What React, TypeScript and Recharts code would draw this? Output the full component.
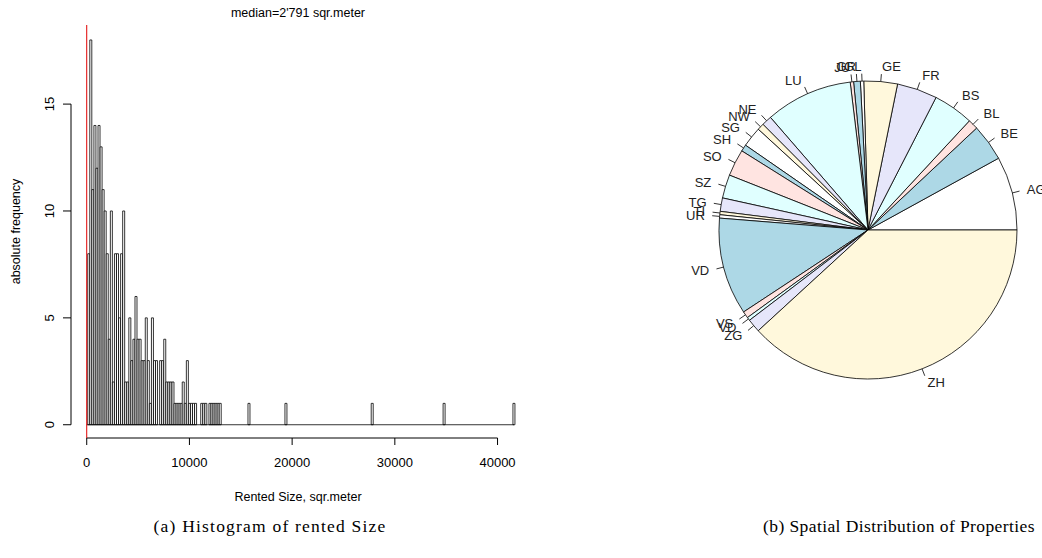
import React from 'react'
import { BarChart, Bar, XAxis, YAxis, ReferenceLine, Label, PieChart, Pie, Cell } from 'recharts'

// histogram: counts per 200 sqm bin, bins 0..13000
const denseCounts = [
  0, 8, 18, 11, 14, 12, 14, 13, 11, 10, 8, 4, 10, 2, 8, 8, 5, 8, 10, 2,
  2, 5, 3, 4, 6, 4, 4, 3, 3, 5, 3, 1, 5, 3, 3, 0, 3, 3, 4, 2,
  2, 2, 2, 1, 1, 1, 1, 2, 1, 3, 1, 1, 1, 1, 0, 0, 1, 1, 1, 0,
  1, 1, 1, 1, 1, 1,
]
// isolated large properties
const tailBins = [15800, 19400, 27800, 34800, 41600]
const tailCounts = [1, 1, 1, 1, 1]
const binWidth = 200
const binCount = 209

const xTicks = [0, 10000, 20000, 30000, 40000]
const yTicks = [0, 5, 10, 15]
const yDomain = [-0.62, 18.7]

// pie: properties per canton (R default pie order, counterclockwise from 3 o'clock)
const cantons = ['AG', 'BE', 'BL', 'BS', 'FR', 'GE', 'GL', 'GR', 'JU', 'LU', 'NE', 'NW',
  'SG', 'SH', 'SO', 'SZ', 'TG', 'TI', 'UR', 'VD', 'VS', 'VD', 'ZG', 'ZH']
const cantonCounts = [22, 11, 3, 12, 12, 10, 1, 2, 1, 26, 3, 2,
  6, 2, 8, 7, 4, 1, 1, 29, 2, 1, 4, 105]
const pieColors = ['#FFFFFF', '#ADD8E6', '#FFE4E1', '#E0FFFF', '#E6E6FA', '#FFF8DC']

const FONT = '"Liberation Sans", Arial, Helvetica, sans-serif'
const SERIF = '"Liberation Serif", "Times New Roman", serif'

const H_W = 545
const H_H = 510
const H_TOP = 25
const X_AXIS_H = 72
const TICK_Y = 8
const TICK_Y_MARGIN = 14
const plotH = H_H - H_TOP - X_AXIS_H
const pxPerUnit = plotH / (yDomain[1] - yDomain[0])

const histData = Array.from({ length: binCount }, (_, i) => {
  const bin = i * binWidth
  const t = tailBins.indexOf(bin)
  return { bin, count: i < denseCounts.length ? denseCounts[i] : t >= 0 ? tailCounts[t] : 0 }
})

const pieData = cantons.map((label, i) => ({ id: `${label}-${i}`, label, value: cantonCounts[i] }))

// R style y tick: rotated label, plus the axis line running up to the next tick
const YTick = (props: any) => {
  const { x, y, payload, index } = props
  const ax = x + TICK_Y + TICK_Y_MARGIN
  const step = index < yTicks.length - 1 ? (yTicks[index + 1] - yTicks[index]) * pxPerUnit : 0
  return (
    <g>
      {step > 0 && <line x1={ax} y1={y} x2={ax} y2={y - step} stroke="#000" strokeWidth={1} />}
      <text x={x} y={y} dy="0.35em" textAnchor="middle" transform={`rotate(-90, ${x}, ${y})`}
        fontSize={13} fontFamily={FONT} fill="#000">{payload.value}</text>
    </g>
  )
}

const RAD = Math.PI / 180
const renderPieLabel = (props: any) => {
  const { cx, cy, midAngle, outerRadius, index } = props
  const c = Math.cos(-midAngle * RAD)
  const s = Math.sin(-midAngle * RAD)
  return (
    <g>
      <line x1={cx + outerRadius * c} y1={cy + outerRadius * s}
        x2={cx + outerRadius * 1.05 * c} y2={cy + outerRadius * 1.05 * s} stroke="#000" strokeWidth={0.8} />
      <text x={cx + outerRadius * 1.1 * c} y={cy + outerRadius * 1.1 * s} dy="0.35em"
        textAnchor={c >= 0 ? 'start' : 'end'} fontSize={13} fontFamily={FONT} fill="#222">
        {pieData[index].label}
      </text>
    </g>
  )
}

const Histogram = () => (
  <BarChart width={H_W} height={H_H} data={histData} margin={{ top: H_TOP, right: 20, bottom: 0, left: 0 }}
    barCategoryGap={0} barGap={0}>
    <XAxis dataKey="bin" type="category" ticks={xTicks} interval={0} axisLine={false}
      tickLine={{ stroke: '#000' }} tickSize={7} tickMargin={13} height={X_AXIS_H}
      padding={{ left: 14.7, right: 10 }} tick={{ fill: '#000', fontSize: 13, fontFamily: FONT }}>
      <Label value="Rented Size, sqr.meter" position="insideBottom" offset={9}
        style={{ fontSize: 12.5, fontFamily: FONT, fill: '#000' }} />
    </XAxis>
    <YAxis type="number" domain={yDomain} ticks={yTicks} interval={0} width={71} axisLine={false}
      tickLine={{ stroke: '#000' }} tickSize={TICK_Y} tickMargin={TICK_Y_MARGIN} tick={<YTick />} allowDataOverflow>
      <Label value="absolute frequency" angle={-90} position="insideLeft" offset={16} textAnchor="middle"
        style={{ fontSize: 12.5, fontFamily: FONT, fill: '#000' }} />
    </YAxis>
    <Bar dataKey="count" fill="#fff" stroke="#000" strokeWidth={0.8} isAnimationActive={false} />
    <ReferenceLine segment={[{ x: 0, y: 0 }, { x: 41600, y: 0 }]} stroke="#000" strokeWidth={0.8} ifOverflow="visible" />
    <ReferenceLine segment={[{ x: 0, y: yDomain[0] }, { x: 40000, y: yDomain[0] }]} stroke="#000" strokeWidth={1} ifOverflow="visible" />
    <ReferenceLine x={0} stroke="#e00000" strokeWidth={1} ifOverflow="visible" />
  </BarChart>
)

const CantonPie = () => (
  <PieChart width={482} height={480} margin={{ top: 0, right: 0, bottom: 0, left: 0 }}>
    <Pie data={pieData} dataKey="value" nameKey="id" cx={308} cy={230} outerRadius={149}
      startAngle={0} endAngle={360} stroke="#000" strokeWidth={0.8} label={renderPieLabel} labelLine={false}
      isAnimationActive={false}>
      {pieData.map((d, i) => <Cell key={d.id} fill={pieColors[i % pieColors.length]} />)}
    </Pie>
  </PieChart>
)

export default function App() {
  return (
    <div style={{ position: 'absolute', left: 0, top: 0, width: 1042, height: 558, background: '#fff', overflow: 'hidden' }}>
      <div style={{ position: 'absolute', left: 71, top: 6, width: 454, textAlign: 'center', fontFamily: FONT, fontSize: 12.5, lineHeight: '14px' }}>
        median=2'791 sqr.meter
      </div>
      <div style={{ position: 'absolute', left: 0, top: 0 }}>
        <Histogram />
      </div>
      <div style={{ position: 'absolute', left: 560, top: 0 }}>
        <CantonPie />
      </div>
      <div style={{ position: 'absolute', left: 100, top: 514, width: 340, textAlign: 'center', fontFamily: SERIF, fontSize: 17.5, letterSpacing: 1.2, lineHeight: '24px' }}>
        (a) Histogram of rented Size
      </div>
      <div style={{ position: 'absolute', left: 749, top: 514, width: 300, textAlign: 'center', fontFamily: SERIF, fontSize: 17.5, letterSpacing: 0.4, lineHeight: '24px' }}>
        (b) Spatial Distribution of Properties
      </div>
    </div>
  )
}
